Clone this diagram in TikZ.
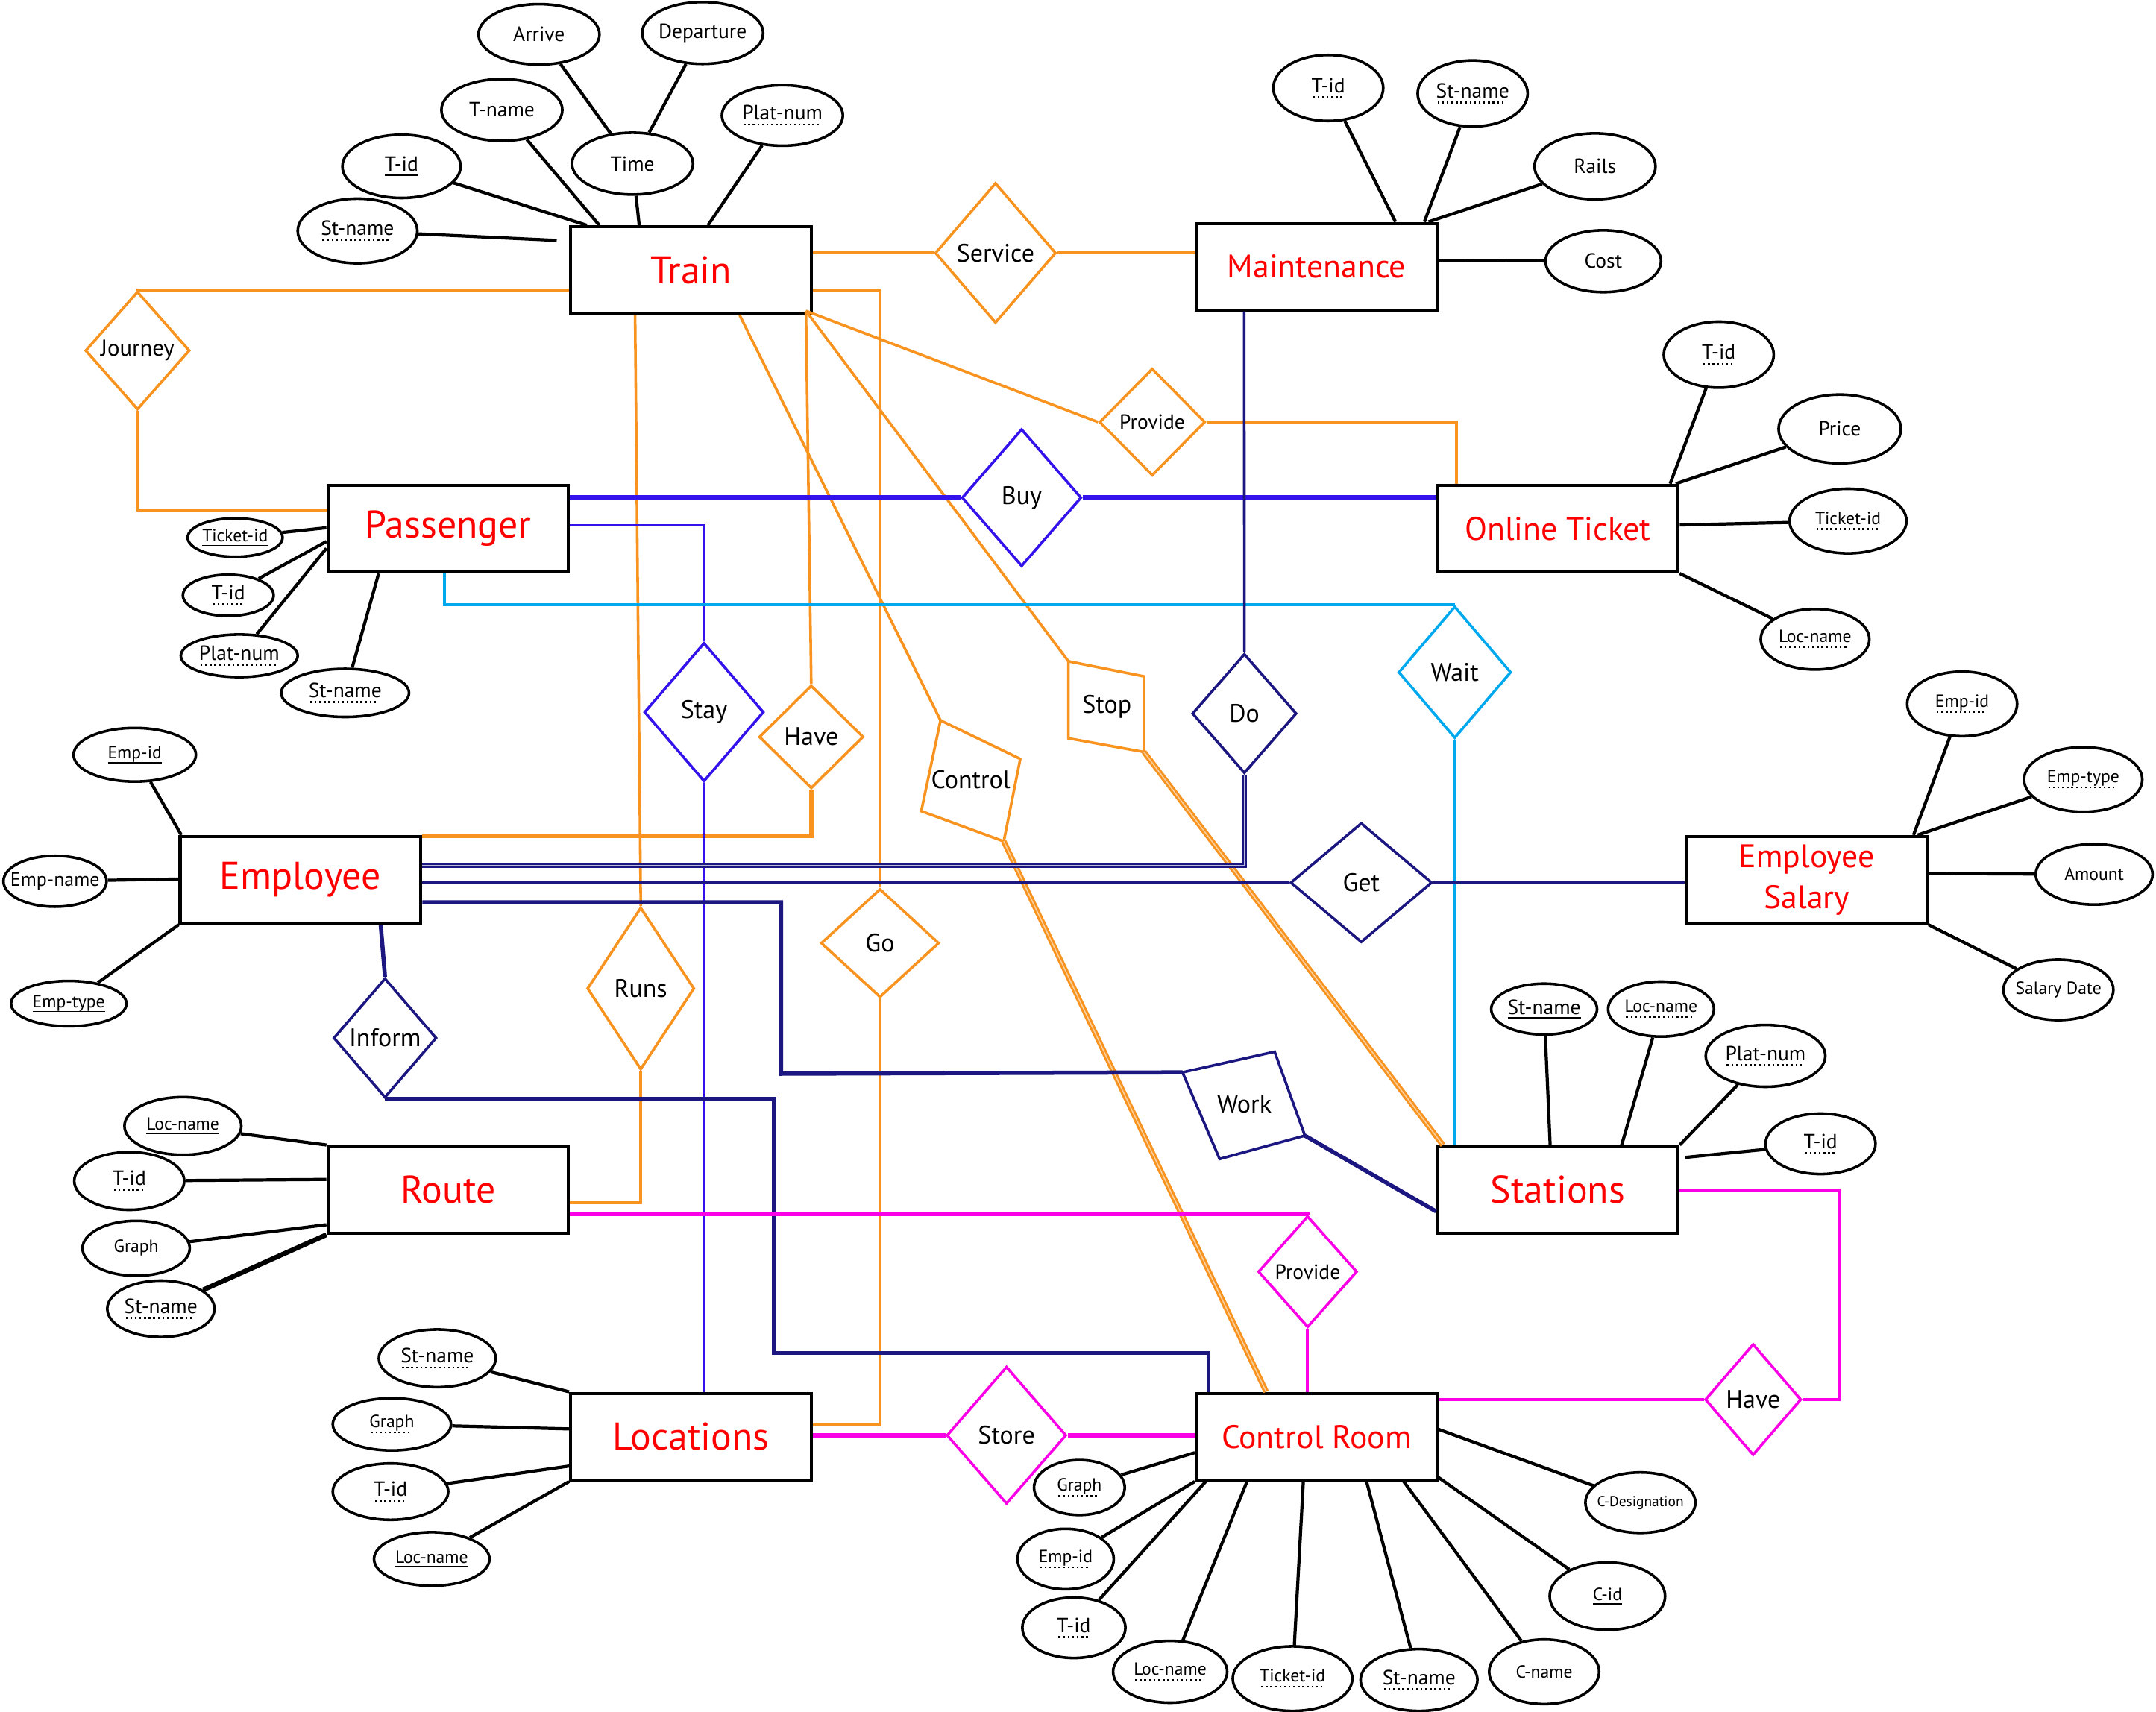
\documentclass[tikz,border=0pt]{standalone}
\usepackage{fontspec}
\setmainfont{PT Sans}
\usepackage{tikz}
\usetikzlibrary{positioning,shapes.geometric,calc}
\definecolor{erorange}{RGB}{247,147,30}
\definecolor{erblue}{RGB}{52,18,235}
\definecolor{ernavy}{RGB}{27,22,128}
\definecolor{ersky}{RGB}{0,169,238}
\definecolor{ermagenta}{RGB}{250,0,230}
\definecolor{erred}{RGB}{255,0,0}
\newcommand{\pk}[1]{\setbox0\hbox{#1}\rlap{\raisebox{-1.8pt}{\rule{\wd0}{0.5pt}}}\copy0}
\newcommand{\fk}[1]{\setbox0\hbox{#1}\rlap{\raisebox{-2.3pt}{\hbox to\wd0{\leaders\hbox to 1.9pt{\hss\rule{0.75pt}{0.75pt}\hss}\hfill}}}\copy0}
\tikzset{
  entity/.style={draw, line width=1.3pt, inner sep=-2cm, minimum width=3.5cm, minimum height=1.26cm, text=erred, align=center, font=\fontsize{16}{18}\selectfont},
  entitysm/.style={entity, font=\fontsize{13.5}{17}\selectfont},
  attr/.style 2 args={draw, ellipse, line width=1.1pt, inner sep=-2cm, minimum width=#1cm, minimum height=#2cm, font=\fontsize{8.5}{10}\selectfont},
  attrsm/.style 2 args={attr={#1}{#2}, font=\fontsize{7.3}{9}\selectfont},
  rel/.style n args={3}{diamond, draw=#1, line width=1.1pt, inner sep=-2cm, minimum width=#2cm, minimum height=#3cm, font=\fontsize{10.5}{12}\selectfont},
  rellabel/.style={inner sep=0pt, font=\fontsize{10.5}{12}\selectfont},
  attrline/.style={draw, line width=1.3pt},
  orangeline/.style={draw=erorange, line width=1.1pt},
  orangethick/.style={draw=erorange, line width=1.7pt},
  orangedouble/.style={draw=erorange, double=erorange!45, double distance=0.5pt, line width=0.9pt},
  orangerel/.style={draw=erorange, line width=1.1pt},
  blueline/.style={draw=erblue, line width=0.9pt},
  bluethick/.style={draw=erblue, line width=2.3pt},
  skyline/.style={draw=ersky, line width=1.2pt},
  navyline/.style={draw=ernavy, line width=1.1pt},
  navythick/.style={draw=ernavy, line width=1.7pt},
  navydouble/.style={draw=ernavy, double=ernavy!30, double distance=0.5pt, line width=0.8pt},
  navyrel/.style={draw=ernavy, line width=1.1pt},
  magline/.style={draw=ermagenta, line width=1.2pt},
  magthick/.style={draw=ermagenta, line width=2pt}
}
\begin{document}
\begin{tikzpicture}[x=0.02cm, y=-0.02cm]
  \useasboundingbox (0,0) rectangle (1568,1245);
  \node[entity] (train) at (502.5,196.5) {Train};
  \node[entitysm] (maint) at (957.5,194) {Maintenance};
  \node[entity] (passenger) at (326,384.5) {Passenger};
  \node[entitysm] (ticket) at (1133,384.5) {Online Ticket};
  \node[entity] (employee) at (218.5,640) {Employee};
  \node[entitysm] (salary) at (1314,640) {Employee\\Salary};
  \node[entity] (route) at (326,865.5) {Route};
  \node[entity] (stations) at (1133,865.5) {Stations};
  \node[entity] (locations) at (502.5,1045) {Locations};
  \node[entitysm] (croom) at (957.5,1045) {Control Room};

  \node[attr={1.76}{0.88}] (arrive) at (392,25) {Arrive};
  \node[attr={1.76}{0.9}] (departure) at (511,24) {Departure};
  \node[attr={1.76}{0.9}] (tname) at (365,80) {T-name};
  \node[attr={1.76}{0.9}] (time) at (460,119) {Time};
  \node[attr={1.76}{0.88}] (platnum) at (569,84) {\fk{Plat-num}};
  \node[attr={1.72}{0.92}] (tid) at (292,121) {\pk{T-id}};
  \node[attr={1.74}{0.94}] (stname) at (260,168) {\fk{St-name}};

  \node[attr={1.6}{0.96}] (mtid) at (966,64) {\fk{T-id}};
  \node[attr={1.6}{0.96}] (mstname) at (1071,68) {\fk{St-name}};
  \node[attr={1.76}{0.96}] (rails) at (1160,121) {Rails};
  \node[attr={1.68}{0.9}] (cost) at (1166,190) {Cost};

  \node[attr={1.6}{0.96}] (otid) at (1250,258) {\fk{T-id}};
  \node[attr={1.78}{1.0}] (price) at (1338,312) {Price};
  \node[attrsm={1.7}{0.94}] (oticket) at (1344,379) {\fk{Ticket-id}};
  \node[attrsm={1.58}{0.88}] (olocname) at (1320,465) {\fk{Loc-name}};

  \node[attrsm={1.38}{0.56}] (pticket) at (171,391) {\pk{Ticket-id}};
  \node[attr={1.32}{0.6}] (ptid) at (166,433) {\fk{T-id}};
  \node[attr={1.7}{0.62}] (pplat) at (174,477) {\fk{Plat-num}};
  \node[attr={1.86}{0.7}] (pstname) at (251,504) {\fk{St-name}};

  \node[attrsm={1.78}{0.78}] (eid) at (98,549) {\pk{Emp-id}};
  \node[attr={1.5}{0.74}, font=\fontsize{8}{9}\selectfont] (ename) at (40,641) {Emp-name};
  \node[attrsm={1.68}{0.66}] (etype) at (50,730) {\pk{Emp-type}};

  \node[attrsm={1.6}{0.94}] (sid) at (1427,512) {\fk{Emp-id}};
  \node[attrsm={1.72}{0.94}] (stype) at (1515,567) {\fk{Emp-type}};
  \node[attrsm={1.7}{0.88}] (amount) at (1523,636) {Amount};
  \node[attrsm={1.6}{0.88}] (sdate) at (1497,720) {Salary Date};

  \node[attrsm={1.7}{0.84}] (rloc) at (133,819) {\pk{Loc-name}};
  \node[attr={1.6}{0.84}] (rtid) at (94,859) {\fk{T-id}};
  \node[attrsm={1.56}{0.8}] (rgraph) at (99,908) {\pk{Graph}};
  \node[attr={1.56}{0.82}] (rstname) at (117,952) {\fk{St-name}};

  \node[attr={1.54}{0.74}] (sstname) at (1123,734) {\pk{St-name}};
  \node[attrsm={1.54}{0.8}] (sloc) at (1208,734) {\fk{Loc-name}};
  \node[attr={1.74}{0.9}] (splat) at (1284,768) {\fk{Plat-num}};
  \node[attr={1.6}{0.88}] (stid) at (1324,832) {\fk{T-id}};

  \node[attr={1.7}{0.84}] (lstname) at (318,988) {\fk{St-name}};
  \node[attrsm={1.72}{0.76}] (lgraph) at (285,1036) {\fk{Graph}};
  \node[attr={1.68}{0.82}] (ltid) at (284,1085) {\fk{T-id}};
  \node[attrsm={1.68}{0.78}] (lloc) at (314,1134) {\pk{Loc-name}};

  \node[attrsm={1.32}{0.8}] (cgraph) at (785,1082) {\fk{Graph}};
  \node[attrsm={1.4}{0.88}] (cempid) at (775,1134) {\fk{Emp-id}};
  \node[attr={1.5}{0.88}] (ctid) at (781,1184) {\fk{T-id}};
  \node[attrsm={1.66}{0.9}] (cloc) at (851,1216) {\fk{Loc-name}};
  \node[attrsm={1.74}{0.94}] (cticket) at (940,1221) {\fk{Ticket-id}};
  \node[attr={1.7}{0.9}] (cstname) at (1032,1222) {\fk{St-name}};
  \node[attrsm={1.6}{0.94}] (cname) at (1123,1216) {C-name};
  \node[attrsm={1.68}{0.98}] (cid) at (1169,1161) {\pk{C-id}};
  \node[attr={1.6}{0.88}, font=\fontsize{6}{7}\selectfont] (cdes) at (1193,1093) {C-Designation};

  \draw[attrline] (arrive) -- (time);
  \draw[attrline] (departure) -- (time);
  \draw[attrline] (tname) -- ($(train.north west)+(22,0)$);
  \draw[attrline] (tid) -- ($(train.north west)+(13,0)$);
  \draw[attrline] (time) -- ($(train.north west)+(51,0)$);
  \draw[attrline] (platnum) -- ($(train.north west)+(101,0)$);
  \draw[attrline] (stname) -- ($(train.north west)+(-9,11)$);
  \draw[attrline] (mtid) -- ($(maint.north west)+(146,0)$);
  \draw[attrline] (mstname) -- ($(maint.north west)+(167,0)$);
  \draw[attrline] (rails) -- ($(maint.north west)+(170,0)$);
  \draw[attrline] (cost) -- ($(maint.north east)+(0,28)$);
  \draw[attrline] (otid) -- ($(ticket.north east)+(-7,0)$);
  \draw[attrline] (price) -- ($(ticket.north east)+(-3,0)$);
  \draw[attrline] (oticket) -- ($(ticket.north east)+(0,30)$);
  \draw[attrline] (olocname) -- (ticket.south east);
  \draw[attrline] (pticket) -- ($(passenger.north west)+(0,32)$);
  \draw[attrline] (ptid) -- ($(passenger.north west)+(0,42)$);
  \draw[attrline] (pplat) -- ($(passenger.north west)+(0,47)$);
  \draw[attrline] (pstname) -- ($(passenger.south west)+(38,0)$);
  \draw[attrline] (eid) -- ($(employee.north west)+(2,0)$);
  \draw[attrline] (ename) -- ($(employee.north west)+(0,32)$);
  \draw[attrline] (etype) -- (employee.south west);
  \draw[attrline] (sid) -- ($(salary.north east)+(-11,0)$);
  \draw[attrline] (stype) -- ($(salary.north east)+(-8,0)$);
  \draw[attrline] (amount) -- ($(salary.north east)+(0,28)$);
  \draw[attrline] (sdate) -- (salary.south east);
  \draw[attrline] (rloc) -- (route.north west);
  \draw[attrline] (rtid) -- ($(route.north west)+(0,25)$);
  \draw[attrline] (rgraph) -- ($(route.north west)+(0,58)$);
  \draw[attrline, line width=2pt] (rstname) -- (route.south west);
  \draw[attrline] (sstname) -- ($(stations.north west)+(83,0)$);
  \draw[attrline] (sloc) -- ($(stations.north west)+(135,0)$);
  \draw[attrline] (splat) -- (stations.north east);
  \draw[attrline] (stid) -- ($(stations.north east)+(4,9)$);
  \draw[attrline] (lstname) -- (locations.north west);
  \draw[attrline] (lgraph) -- ($(locations.north west)+(0,27)$);
  \draw[attrline] (ltid) -- ($(locations.north west)+(0,54)$);
  \draw[attrline] (lloc) -- (locations.south west);
  \draw[attrline] (cgraph) -- ($(croom.south west)+(0,-21)$);
  \draw[attrline] (cempid) -- (croom.south west);
  \draw[attrline] (ctid) -- ($(croom.south west)+(8,0)$);
  \draw[attrline] (cloc) -- ($(croom.south west)+(38,0)$);
  \draw[attrline] (cticket) -- ($(croom.south west)+(79,0)$);
  \draw[attrline] (cstname) -- ($(croom.south west)+(125,0)$);
  \draw[attrline] (cname) -- ($(croom.south west)+(152,0)$);
  \draw[attrline] (cid) -- ($(croom.south east)+(0,-3)$);
  \draw[attrline] (cdes) -- ($(croom.south east)+(0,-38)$);

  \node[rel={erorange}{1.76}{2.04}] (service) at (724,184) {Service};
  \node[rel={erorange}{1.52}{1.72}, font=\fontsize{9.5}{11}\selectfont] (journey) at (100,255) {Journey};
  \node[rel={erorange}{1.54}{1.56}, font=\fontsize{8.5}{10}\selectfont] (provide) at (838,307) {Provide};
  \node[rel={erblue}{1.74}{2.0}] (buy) at (743,362) {Buy};
  \node[rel={erblue}{1.74}{2.02}] (stay) at (512,518) {Stay};
  \node[rel={erorange}{1.52}{1.5}] (have) at (590,536) {Have};
  \node[rel={ernavy}{1.52}{1.74}] (do) at (905,519) {Do};
  \node[rel={ersky}{1.64}{1.92}] (wait) at (1058,489) {Wait};
  \node[rel={ernavy}{2.06}{1.74}] (get) at (990,642) {Get};
  \node[rel={ernavy}{1.5}{1.74}] (inform) at (280,755) {Inform};
  \node[rel={erorange}{1.56}{2.36}] (runs) at (466,719) {Runs};
  \node[rel={erorange}{1.72}{1.58}] (go) at (640,686) {Go};
  \node[rel={ermagenta}{1.44}{1.62}, font=\fontsize{8.5}{10}\selectfont] (provide2) at (951,925) {Provide};
  \node[rel={ermagenta}{1.74}{2.0}] (store) at (732,1044) {Store};
  \node[rel={ermagenta}{1.4}{1.62}] (have2) at (1275,1018) {Have};

  \coordinate (ctl-a) at (684,524);
  \coordinate (ctl-b) at (742,552);
  \coordinate (ctl-c) at (730,612);
  \coordinate (ctl-d) at (670,590);
  \draw[orangerel] (ctl-a) -- (ctl-b) -- (ctl-c) -- (ctl-d) -- cycle;
  \node[rellabel] (control) at (706,567) {Control};
  \coordinate (stp-a) at (777,481);
  \coordinate (stp-b) at (832,492);
  \coordinate (stp-c) at (832,547);
  \coordinate (stp-d) at (777,537);
  \draw[orangerel] (stp-a) -- (stp-b) -- (stp-c) -- (stp-d) -- cycle;
  \node[rellabel] (stop) at (805,514) {Stop};
  \coordinate (wrk-a) at (860,780);
  \coordinate (wrk-b) at (927,765);
  \coordinate (wrk-c) at (949,826);
  \coordinate (wrk-d) at (887,843);
  \draw[navyrel] (wrk-a) -- (wrk-b) -- (wrk-c) -- (wrk-d) -- cycle;
  \node[rellabel] (work) at (905,803) {Work};

  \coordinate (trainc) at ($(train.south east)+(-5,-3)$);
  \draw[orangeline] (service.west -| train.east) -- (service.west);
  \draw[orangeline] (service.east) -- (service.east -| maint.west);
  \draw[orangeline] ($(train.north west)+(0,47)$) -| (journey.north);
  \draw[orangeline] (journey.south) |- ($(passenger.north west)+(0,19)$);
  \draw[orangeline] ($(train.north east)+(0,47)$) -| (go.north);
  \draw[orangeline] (go.south) |- ($(locations.north east)+(0,24)$);
  \draw[orangeline] ($(train.south west)+(48,0)$) -- (runs.north);
  \draw[orangeline] (runs.south) |- ($(route.north east)+(0,42)$);
  \draw[orangeline] ($(train.south west)+(124,0)$) -- (ctl-a);
  \draw[orangedouble] (ctl-c) -- ($(croom.north west)+(52,0)$);
  \draw[orangeline] (trainc) -- (stp-a);
  \draw[orangedouble] (stp-c) -- ($(stations.north west)+(5,0)$);
  \draw[orangeline] (trainc) -- (have.north);
  \draw[orangethick] (have.south) |- ($(employee.north east)+(0,1)$);
  \draw[orangeline] (trainc) -- (provide.west);
  \draw[orangeline] (provide.east) -| ($(ticket.north west)+(15,0)$);

  \draw[bluethick] (buy.west -| passenger.east) -- (buy.west);
  \draw[bluethick] (buy.east) -- (buy.east -| ticket.west);
  \draw[blueline] ($(passenger.north east)+(0,30)$) -| (stay.north);
  \draw[blueline] (stay.south) -- (stay.south |- locations.north);

  \draw[skyline] ($(passenger.south west)+(86,0)$) |- (wait.north);
  \draw[skyline] (wait.south) -- (wait.south |- stations.north);

  \draw[navyline] ($(maint.south west)+(36,0)$) -- (do.north);
  \draw[navydouble] (do.south) |- ($(employee.north east)+(0,22)$);
  \draw[navyline] (get.west -| employee.east) -- (get.west);
  \draw[navyline] (get.east) -- (get.east -| salary.west);
  \coordinate (workbend) at (568,781);
  \draw[navythick] ($(employee.north east)+(0,49)$) -| (workbend) -- (wrk-a);
  \draw[navythick] (wrk-c) -- ($(stations.south west)+(0,-17)$);
  \draw[navythick] ($(employee.south west)+(147,0)$) -- (inform.north);
  \coordinate (informbend) at (563,984);
  \draw[navythick] (inform.south) -| (informbend) -| ($(croom.north west)+(10,0)$);

  \draw[magthick] ($(route.north east)+(0,50)$) -| (provide2.north);
  \draw[magline] (provide2.south) -- (provide2.south |- croom.north);
  \draw[magthick] (store.west -| locations.east) -- (store.west);
  \draw[magthick] (store.east) -- (store.east -| croom.west);
  \draw[magline] (have2.west -| croom.east) -- (have2.west);
  \draw[magline] (have2.east) -| ($(stations.east)+(116,0)$) -- (stations.east);
\end{tikzpicture}
\end{document}
